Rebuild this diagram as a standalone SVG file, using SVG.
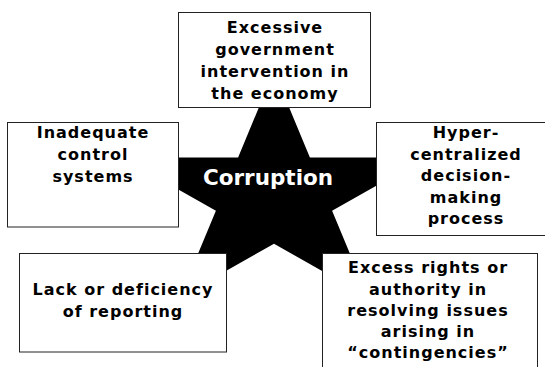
<svg xmlns="http://www.w3.org/2000/svg" width="545" height="367" viewBox="0 0 545 367">
<style>
.box{fill:#fff;stroke:#222;stroke-width:1}
.t{font-family:"DejaVu Sans","Verdana",sans-serif;font-weight:bold;font-size:16px;letter-spacing:1px;fill:#000;text-anchor:middle}
.c{font-family:"DejaVu Sans","Verdana",sans-serif;font-weight:bold;font-size:21.5px;fill:#fff;text-anchor:middle}
</style>
<rect width="545" height="367" fill="#fff"/>
<g id="star">
<polygon points="274,71 309.9,157.4 426.2,157.4 332.1,210.7 368,297.1 274,243.7 180,297.1 215.9,210.7 121.8,157.4 238.1,157.4" fill="#000"/>
<text class="c" x="268" y="185">Corruption</text>
</g>
<g id="connectors"></g>
<g id="n-top">
<rect class="box" x="178.5" y="12.5" width="192" height="95"/>
<text class="t" x="275" y="33">Excessive</text>
<text class="t" x="275" y="55">government</text>
<text class="t" x="275" y="77">intervention in</text>
<text class="t" x="275" y="98.5">the economy</text>
</g>
<g id="n-left">
<rect class="box" x="7.5" y="122.5" width="171" height="104.5"/>
<text class="t" x="93" y="138">Inadequate</text>
<text class="t" x="93" y="160">control</text>
<text class="t" x="93" y="182">systems</text>
</g>
<g id="n-right">
<rect class="box" x="376.5" y="122.5" width="180" height="113"/>
<text class="t" x="466" y="138">Hyper-</text>
<text class="t" x="466" y="159.5">centralized</text>
<text class="t" x="466" y="181">decision-</text>
<text class="t" x="466" y="202.5">making</text>
<text class="t" x="466" y="224">process</text>
</g>
<g id="n-bottom-left">
<rect class="box" x="19.5" y="253.5" width="207" height="98.5"/>
<text class="t" x="123" y="295">Lack or deficiency</text>
<text class="t" x="123" y="317">of reporting</text>
</g>
<g id="n-bottom-right">
<rect class="box" x="322.5" y="253.5" width="215" height="130"/>
<text class="t" x="428" y="273">Excess rights or</text>
<text class="t" x="428" y="295">authority in</text>
<text class="t" x="428" y="316">resolving issues</text>
<text class="t" x="428" y="337">arising in</text>
<text class="t" x="428" y="358">“contingencies”</text>
</g>
</svg>
